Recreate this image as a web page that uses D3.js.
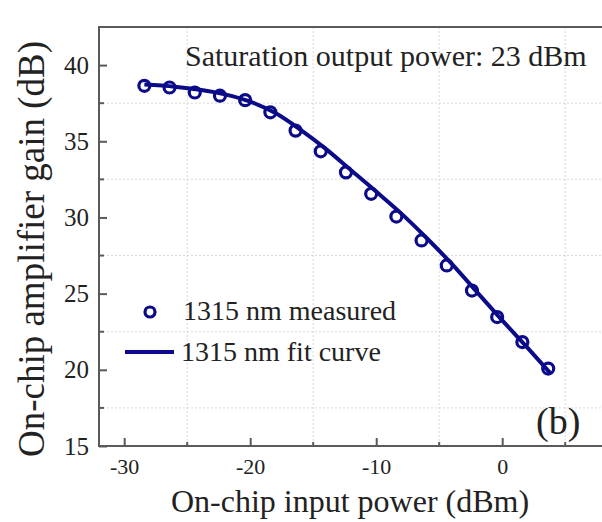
<!DOCTYPE html>
<html>
<head>
<meta charset="utf-8">
<script src="https://cdn.jsdelivr.net/npm/d3@7"></script>
<style>
  body { margin: 0; background: #fff; }
  svg text { font-family: "Liberation Serif", "Times New Roman", Times, "DejaVu Serif", serif; }
</style>
</head>
<body>
<svg class="chart" width="602" height="522"></svg>
<script>
// measured points (input power dBm, gain dB)
var measX = [-28.4, -26.4, -24.4, -22.4, -20.4, -18.4, -16.4, -14.4, -12.4, -10.4, -8.4, -6.4, -4.4, -2.4, -0.4, 1.6, 3.65];
var measY = [38.64, 38.53, 38.2, 37.99, 37.7, 36.9, 35.7, 34.34, 32.96, 31.55, 30.06, 28.49, 26.85, 25.2, 23.46, 21.82, 20.08];

// fit curve
var fitX = [-28.4, -26, -24, -22, -20, -18, -16, -14, -12, -10, -8, -6, -4, -2, 0, 2, 3.8];
var fitY = [38.72, 38.58, 38.38, 38.08, 37.6, 36.85, 35.75, 34.5, 33.1, 31.7, 30.25, 28.65, 26.95, 25.1, 23.25, 21.45, 19.8];

var xTicks = [-30, -20, -10, 0];
var xMinor = [-25, -15, -5, 5];
var yTicks = [15, 20, 25, 30, 35, 40];
var yMinor = [17.5, 22.5, 27.5, 32.5, 37.5];

var blue = '#0b0b8a';
var axisCol = '#5a5a5a';

var margin = {top: 27, right: -1, bottom: 76, left: 99},
    width = 602 - margin.left - margin.right,
    height = 522 - margin.top - margin.bottom;

var svg = d3.select('.chart');
var chart = svg.append('g')
    .attr('transform', 'translate(' + margin.left + ',' + margin.top + ')');

var x = d3.scaleLinear().domain([-32, 8]).range([0, width]);
var y = d3.scaleLinear().domain([15, 42.5]).range([height, 0]);

// grid on minor positions
chart.selectAll('.vgrid').data(xMinor).enter().append('line')
    .attr('x1', function(d) { return x(d); }).attr('x2', function(d) { return x(d); })
    .attr('y1', 0).attr('y2', height)
    .attr('stroke', '#d8d8d8').attr('stroke-dasharray', '2,2');
chart.selectAll('.hgrid').data(yMinor).enter().append('line')
    .attr('y1', function(d) { return y(d); }).attr('y2', function(d) { return y(d); })
    .attr('x1', 0).attr('x2', width)
    .attr('stroke', '#d8d8d8').attr('stroke-dasharray', '2,2');

// axes (plain hyphen for negatives, like the original)
var fmt = function(d) { return String(d); };
var xAxis = d3.axisBottom(x).tickValues(xTicks).tickFormat(fmt).tickSize(-8).tickPadding(12);
var yAxis = d3.axisLeft(y).tickValues(yTicks).tickFormat(fmt).tickSize(-8).tickPadding(10);

var gx = chart.append('g')
    .attr('transform', 'translate(0,' + height + ')')
    .call(xAxis);
var gy = chart.append('g').call(yAxis);

[gx, gy].forEach(function(g) {
  g.attr('font-family', null);
  g.select('.domain').remove();
  g.selectAll('line').attr('stroke', axisCol).attr('stroke-width', 2);
  g.selectAll('text').attr('fill', '#222').style('font-size', '25px');
});
gx.selectAll('text').style('font-size', '22px');

// minor ticks
chart.selectAll('.xmin').data(xMinor).enter().append('line')
    .attr('x1', function(d) { return x(d); }).attr('x2', function(d) { return x(d); })
    .attr('y1', height).attr('y2', height - 4)
    .attr('stroke', axisCol).attr('stroke-width', 2);
chart.selectAll('.ymin').data(yMinor).enter().append('line')
    .attr('y1', function(d) { return y(d); }).attr('y2', function(d) { return y(d); })
    .attr('x1', 0).attr('x2', 5)
    .attr('stroke', axisCol).attr('stroke-width', 2);

// frame
chart.append('rect')
    .attr('x', 0).attr('y', 0).attr('width', width).attr('height', height)
    .attr('fill', 'none').attr('stroke', axisCol).attr('stroke-width', 2);

// fit curve
var line = d3.line()
    .x(function(d) { return x(d[0]); })
    .y(function(d) { return y(d[1]); })
    .curve(d3.curveMonotoneX);

chart.append('path')
    .datum(d3.zip(fitX, fitY))
    .attr('d', line)
    .attr('fill', 'none')
    .attr('stroke', blue)
    .attr('stroke-width', 4);

// measured circles
chart.selectAll('.pt').data(d3.zip(measX, measY)).enter().append('circle')
    .attr('cx', function(d) { return x(d[0]); })
    .attr('cy', function(d) { return y(d[1]); })
    .attr('r', 5.5)
    .attr('fill', 'none')
    .attr('stroke', blue)
    .attr('stroke-width', 3.2);

// annotations
chart.append('text')
    .attr('x', 86).attr('y', 39)
    .style('font-size', '30px').attr('fill', '#222')
    .text('Saturation output power: 23 dBm');

chart.append('text')
    .attr('x', 437).attr('y', 407)
    .style('font-size', '38px').attr('fill', '#222')
    .text('(b)');

// legend
var leg = chart.append('g');
leg.append('circle')
    .attr('cx', 51).attr('cy', 285).attr('r', 5)
    .attr('fill', 'none').attr('stroke', blue).attr('stroke-width', 3.2);
leg.append('text').attr('x', 84).attr('y', 293)
    .style('font-size', '28px').attr('fill', '#222')
    .text('1315 nm measured');
leg.append('line')
    .attr('x1', 26).attr('x2', 75).attr('y1', 325).attr('y2', 325)
    .attr('stroke', blue).attr('stroke-width', 4);
leg.append('text').attr('x', 82).attr('y', 334)
    .style('font-size', '28px').attr('fill', '#222')
    .text('1315 nm fit curve');

// axis titles
svg.append('text')
    .attr('x', 350).attr('y', 512)
    .attr('text-anchor', 'middle')
    .style('font-size', '32px').attr('fill', '#222')
    .text('On-chip input power (dBm)');

svg.append('text')
    .attr('transform', 'translate(44,249) rotate(-90)')
    .attr('text-anchor', 'middle')
    .style('font-size', '37px').attr('fill', '#222')
    .text('On-chip amplifier gain (dB)');
</script>
</body>
</html>
